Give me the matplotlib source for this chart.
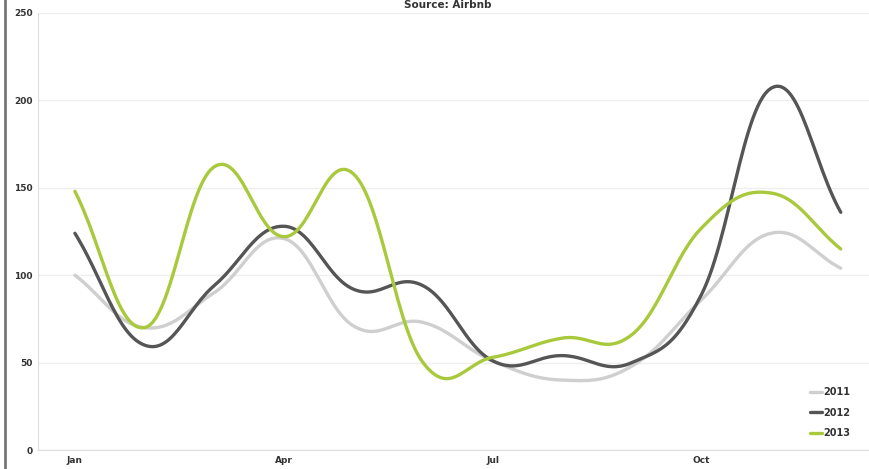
import numpy as np
import matplotlib.pyplot as plt

months = ['Jan', 'Feb', 'Mar', 'Apr', 'May', 'Jun', 'Jul', 'Aug', 'Sep', 'Oct', 'Nov', 'Dec']
tick_months = ['Jan', 'Apr', 'Jul', 'Oct']
y2011 = [100, 70, 90, 121, 71, 73, 51, 40, 48, 86, 124, 104]
y2012 = [124, 60, 94, 128, 92, 94, 51, 54, 50, 89, 207, 136]
y2013 = [148, 70, 162, 122, 158, 50, 53, 64, 66, 127, 147, 115]


def spline(x, y, n=30, smooth=1.5):
    # bezier curve through points, highcharts-like control points
    x = np.asarray(x, float)
    y = np.asarray(y, float)
    xs, ys = [], []
    for i in range(len(x) - 1):
        if i > 0:
            lx, ly = x[i-1], y[i-1]
        else:
            lx, ly = x[i], y[i]
        if i + 2 < len(x):
            nx, ny = x[i+2], y[i+2]
        else:
            nx, ny = x[i+1], y[i+1]
        # control points
        c1x = (smooth * x[i] + x[i+1]) / (smooth + 1)
        c1y = y[i] + ((y[i+1] - ly) / (x[i+1] - lx if x[i+1] != lx else 1)) * (c1x - x[i])
        c2x = (smooth * x[i+1] + x[i]) / (smooth + 1)
        c2y = y[i+1] - ((ny - y[i]) / (nx - x[i] if nx != x[i] else 1)) * (x[i+1] - c2x)
        t = np.linspace(0, 1, n)
        bx = (1-t)**3*x[i] + 3*(1-t)**2*t*c1x + 3*(1-t)*t**2*c2x + t**3*x[i+1]
        by = (1-t)**3*y[i] + 3*(1-t)**2*t*c1y + 3*(1-t)*t**2*c2y + t**3*y[i+1]
        xs.extend(bx)
        ys.extend(by)
    return np.array(xs), np.array(ys)


fig = plt.figure(figsize=(8.7, 4.69), dpi=100)
ax = fig.add_axes([38/870, 1 - 450/469, 832/870, 437/469])

xi = np.arange(len(months))
for vals, col, lab in [(y2011, '#cfcfcf', '2011'), (y2012, '#555555', '2012'), (y2013, '#a9c93c', '2013')]:
    sx, sy = spline(xi, vals)
    ax.plot(sx, sy, color=col, lw=2.4, label=lab, solid_capstyle='round')

ax.set_xlim(-0.53, 11.42)
ax.set_ylim(0, 250)
ax.set_yticks([0, 50, 100, 150, 200, 250])
ax.set_xticks([months.index(m) for m in tick_months])
ax.set_xticklabels(tick_months)
ax.tick_params(labelsize=6.5, colors='#333333', length=0, pad=4)
for lbl in ax.get_xticklabels() + ax.get_yticklabels():
    lbl.set_fontweight('bold')
ax.grid(axis='y', color='#eeeeee', lw=1)
ax.set_axisbelow(True)
for s in ['top', 'right']:
    ax.spines[s].set_visible(False)
ax.spines['left'].set_color('#dddddd')
ax.spines['bottom'].set_color('#dddddd')

leg = ax.legend(loc='lower right', frameon=False, fontsize=7, handlelength=1.2,
                handletextpad=0.1, labelspacing=1.1, borderaxespad=0.8,
                bbox_to_anchor=(0.99, 0.0))
for t in leg.get_texts():
    t.set_fontweight('bold')
    t.set_color('#333333')

fig.text(0.515, 0.99, 'Source: Airbnb', ha='center', va='center', fontsize=7.5,
         fontweight='bold', color='#333333')
fig.add_artist(plt.Line2D([5/870, 5/870], [0, 1], color='#777777', lw=2))

fig.savefig('out.png', dpi=100)
